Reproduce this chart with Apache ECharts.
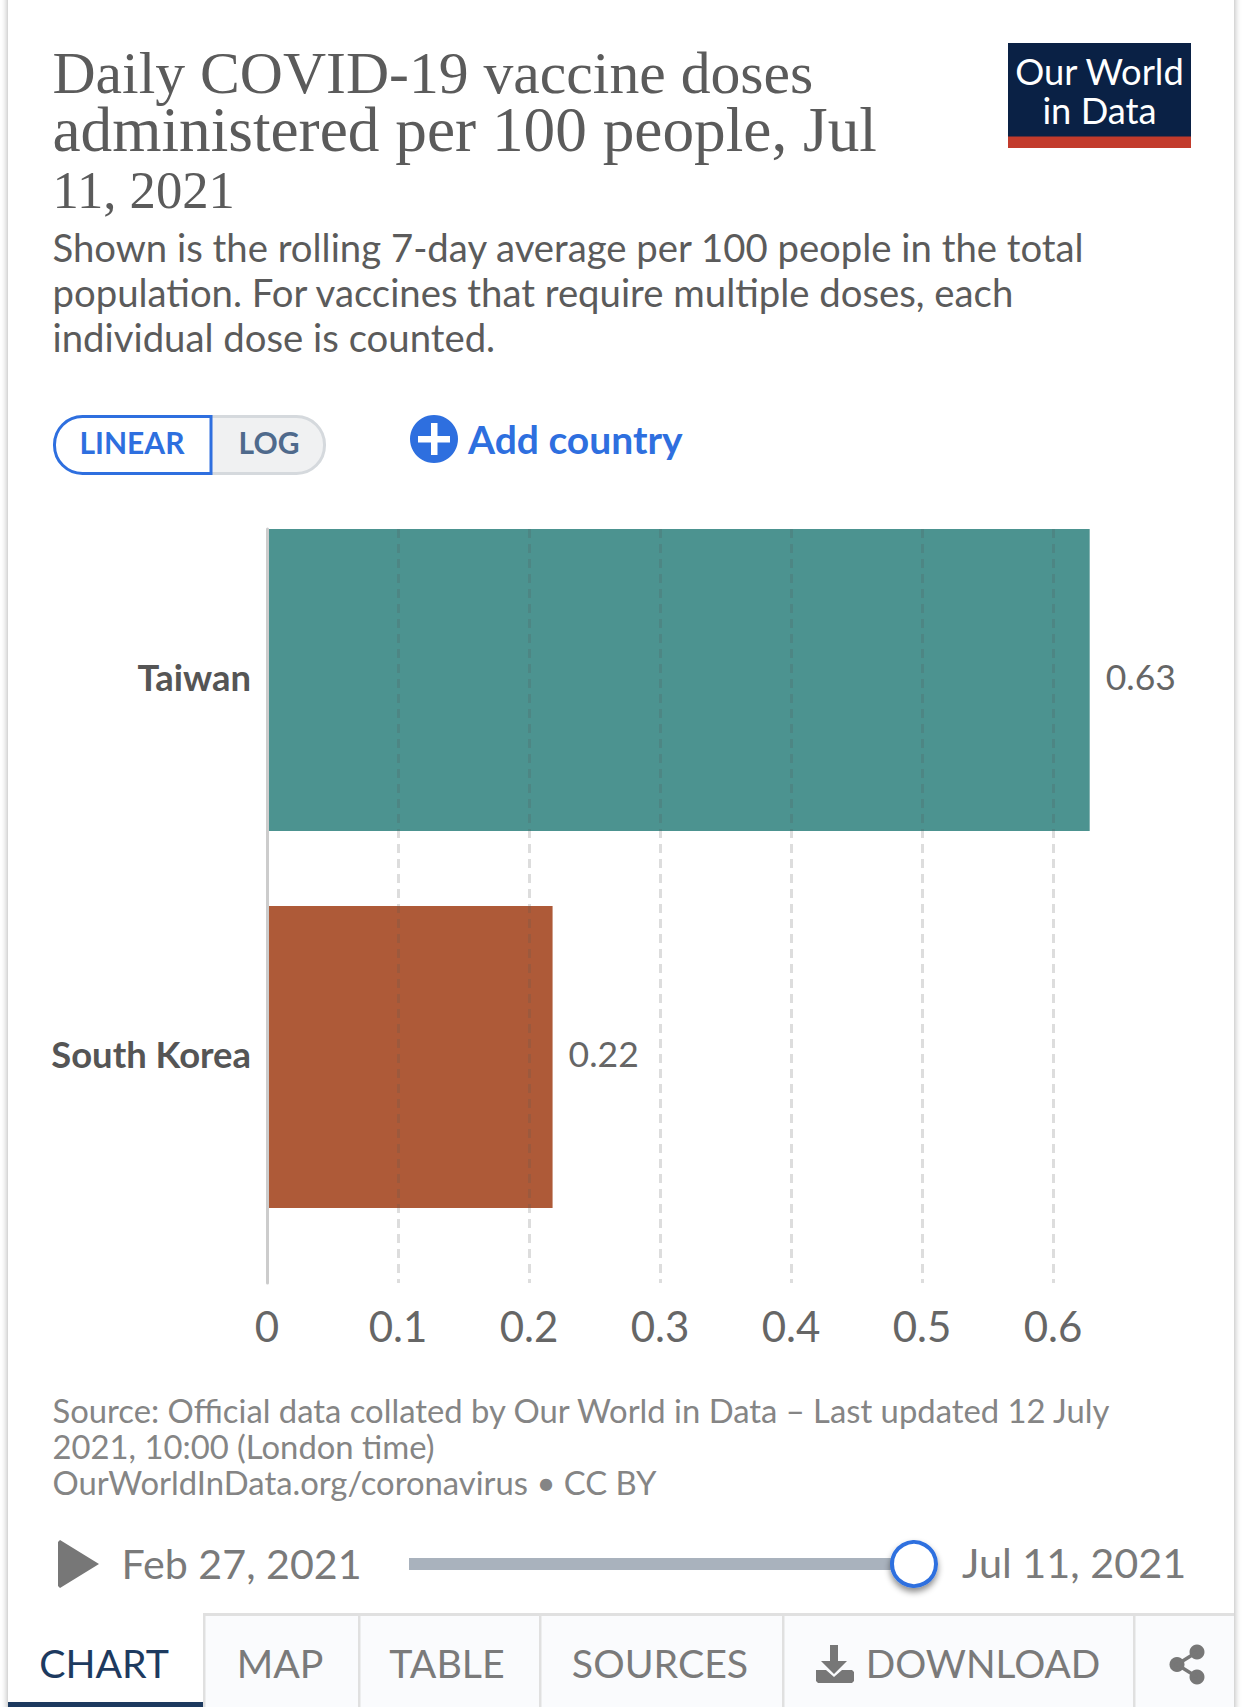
<!DOCTYPE html>
<html><head><meta charset="utf-8">
<style>html,body{margin:0;padding:0;background:#fff}#c{width:1242px;height:1707px}</style>
<script src="https://cdn.jsdelivr.net/npm/echarts@6/dist/echarts.min.js"></script>
</head><body><div id="c"></div>
<script>
const categories = ['Taiwan', 'South Korea'];
const doses = [0.628, 0.218];
const barColors = ['#4c9390', '#ae5a38'];
const tickValues = [0, 0.1, 0.2, 0.3, 0.4, 0.5, 0.6];
const titleLines = ['Daily COVID-19 vaccine doses', 'administered per 100 people, Jul', '11, 2021'];
const subtitleLines = ['Shown is the rolling 7-day average per 100 people in the total',
  'population. For vaccines that require multiple doses, each', 'individual dose is counted.'];
const sourceLines = ['Source: Official data collated by Our World in Data \u2013 Last updated 12 July',
  '2021, 10:00 (London time)', 'OurWorldInData.org/coronavirus \u2022 CC BY'];
const tabs = [['CHART', 104, '#1d3a5f'], ['MAP', 280, '#7a7a7a'], ['TABLE', 447, '#7a7a7a'], ['SOURCES', 660, '#7a7a7a'], ['DOWNLOAD', 983, '#7a7a7a']];

const LATO = 'Lato', SERIF = '"Liberation Serif"';
function t(text, x, y, size, fill, o) {
  o = o || {};
  const k = o.f === SERIF ? 0.83 : 0.92;
  return { type: 'text', x: x, y: y - size * k, z: 10, style: { text: text, fill: fill,
    font: (o.w || 400) + ' ' + size + 'px ' + (o.f || LATO),
    textAlign: o.a || 'left', textVerticalAlign: 'top', verticalAlign: 'top' } };
}
function r(x, y, w, h, fill, o) {
  o = o || {};
  return { type: 'rect', z: o.z == null ? 1 : o.z, shape: { x: x, y: y, width: w, height: h, r: o.r || 0 },
    style: Object.assign({ fill: fill }, o.s || {}) };
}
const g = [];
g.push(r(8, -20, 1226, 1740, '#fff', { z: -1, r: 6, s: { shadowBlur: 7, shadowColor: 'rgba(0,0,0,0.35)' } }));
titleLines.forEach((s, i) => g.push(t(s, 52.5, [93, 151, 207][i], [59.7, 63.3, 52.7][i], '#5b5b5b', { f: SERIF })));
subtitleLines.forEach((s, i) => g.push(t(s, 52.5, [263, 308, 353][i], 38.3, '#5b5b5b')));
g.push(r(1008, 43, 183, 94, '#0a2145'), r(1008, 136.5, 183, 11.5, '#c23b2c'));
g.push(t('Our World', 1099.5, 86, 36.3, '#fff', { a: 'center' }), t('in Data', 1099.5, 125, 36.3, '#fff', { a: 'center' }));
g.push(r(150, 416.5, 174.5, 57, '#f0f1f2', { r: [0, 28, 28, 0], s: { stroke: '#d5d9dd', lineWidth: 3 } }));
g.push(r(54.5, 416.5, 156.5, 57, '#fff', { r: [28, 0, 0, 28], z: 2, s: { stroke: '#2e6fdf', lineWidth: 3 } }));
g.push(t('LINEAR', 132, 455, 30, '#2e6fdf', { a: 'center', w: 700 }), t('LOG', 269, 455, 30, '#4f6a8c', { a: 'center', w: 700 }));
g.push({ type: 'circle', z: 2, shape: { cx: 434, cy: 439, r: 24 }, style: { fill: '#2e6fdf' } });
g.push(r(418, 436, 32, 6.5, '#fff', { z: 3 }), r(431, 423, 6.5, 32, '#fff', { z: 3 }));
g.push(t('Add country', 468, 455, 39, '#2e6fdf', { w: 700 }));
sourceLines.forEach((s, i) => g.push(t(s, 52.5, [1424, 1460, 1496][i], 32.8, '#858585')));
g.push({ type: 'polygon', z: 2, shape: { points: [[58, 1542], [60, 1540], [99, 1564], [60, 1588], [58, 1586]] }, style: { fill: '#777' } });
g.push(t('Feb 27, 2021', 121.5, 1580, 41.2, '#7a7a7a'), t('Jul 11, 2021', 962, 1580, 41.4, '#7a7a7a'));
g.push(r(409, 1558, 496, 12, '#a9b2bd'));
g.push({ type: 'circle', z: 3, shape: { cx: 914, cy: 1564, r: 22 }, style: { fill: '#fff', stroke: '#2e6fdf', lineWidth: 4, shadowBlur: 6, shadowOffsetY: 4, shadowColor: 'rgba(0,0,0,0.45)' } });
g.push(r(204, 1615, 1030, 92, '#fafbfd'));
g.push(r(203, 1613, 1031, 3, '#e0e0e0', { z: 2 }), r(203, 1613, 2.5, 94, '#e0e0e0', { z: 2 }));
[358, 539, 782, 1133].forEach(x => g.push(r(x, 1616, 2.5, 91, '#e0e0e0', { z: 2 })));
g.push(r(8, 1702, 195, 5, '#1d3a5f', { z: 2 }));
tabs.forEach(a => g.push(t(a[0], a[1], 1679, a[0] == 'DOWNLOAD' ? 38.8 : 39.3, a[2], { a: 'center' })));
g.push({ type: 'polygon', z: 3, shape: { points: [[830, 1645], [838, 1645], [838, 1661], [847, 1661], [834, 1674], [821, 1661], [830, 1661]] }, style: { fill: '#777' } });
g.push({ type: 'polygon', z: 3, shape: { points: [[816, 1670], [826, 1670], [834, 1677], [842, 1670], [852, 1670], [854, 1672], [854, 1681], [852, 1683], [818, 1683], [816, 1681], [816, 1672]] }, style: { fill: '#777' } });
[[1197, 1652], [1177, 1664.5], [1197, 1677]].forEach(p => g.push({ type: 'circle', z: 3, shape: { cx: p[0], cy: p[1], r: 7.5 }, style: { fill: '#777' } }));
g.push({ type: 'polyline', z: 3, shape: { points: [[1197, 1652], [1177, 1664.5], [1197, 1677]] }, style: { stroke: '#777', lineWidth: 3.5, fill: 'none' } });

const chart = echarts.init(document.getElementById('c'), null, { renderer: 'svg', width: 1242, height: 1707 });
chart.setOption({
  animation: false,
  backgroundColor: '#fff',
  textStyle: { fontFamily: LATO },
  grid: [
    { left: 267, top: 491.5, width: 917, height: 754 },
    { left: 267, top: 529, width: 786, height: 754 }
  ],
  xAxis: [
    { gridIndex: 0, type: 'value', min: 0, max: 0.7, show: false },
    { gridIndex: 1, type: 'value', min: 0, max: tickValues[tickValues.length - 1], interval: 0.1, z: 5,
      axisLine: { show: false }, axisTick: { show: false },
      axisLabel: { fontSize: 42, color: '#666', margin: 22, fontFamily: LATO, hideOverlap: false },
      splitLine: { show: true, showMinLine: false, lineStyle: { color: 'rgba(85,85,85,0.2)', width: 3, type: [9, 6] } } }
  ],
  yAxis: [
    { gridIndex: 0, type: 'category', inverse: true, data: categories,
      axisLine: { show: false }, axisTick: { show: false },
      axisLabel: { fontSize: 36.4, fontWeight: 700, color: '#555', margin: 16, fontFamily: LATO, verticalAlign: 'bottom', lineHeight: 7 } },
    { gridIndex: 1, type: 'value', min: 0, max: 1, z: 5,
      axisLine: { show: true, lineStyle: { color: '#ccc', width: 3 } },
      axisTick: { show: false }, axisLabel: { show: false }, splitLine: { show: false } }
  ],
  series: [{
    type: 'bar', xAxisIndex: 0, yAxisIndex: 0, barWidth: 302, z: 2,
    data: doses.map((v, i) => ({ value: v, itemStyle: { color: barColors[i] } })),
    label: { show: true, position: 'right', distance: 16, fontSize: 35.5, color: '#666', fontFamily: LATO, offset: [0, -4],
      formatter: p => p.value.toFixed(2) }
  }],
  graphic: { elements: g }
});
</script></body></html>
